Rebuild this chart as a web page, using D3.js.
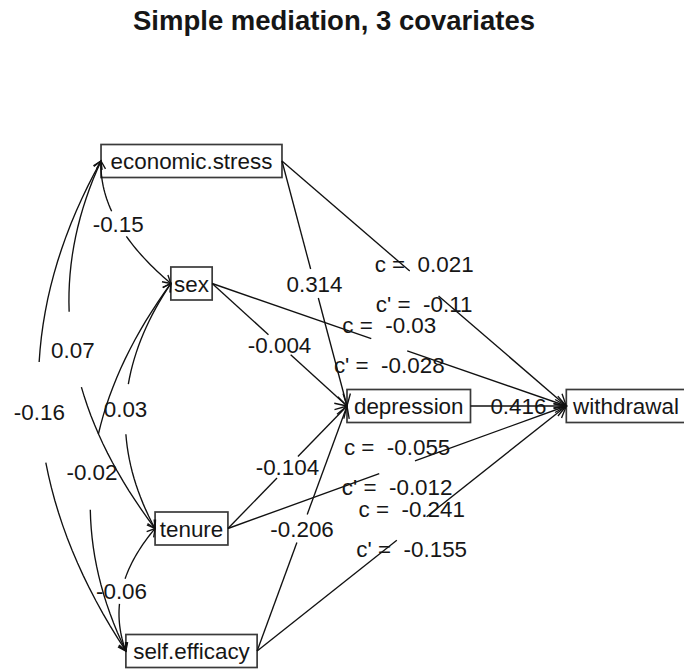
<!DOCTYPE html>
<html>
<head>
<meta charset="utf-8">
<script src="https://cdn.jsdelivr.net/npm/d3@7"></script>
<style>
  body { margin: 0; background: #fff; }
  text { font-family: "Liberation Sans", Arial, sans-serif; fill: #161616; white-space: pre; }
</style>
</head>
<body>
<script>
// values
const title = "Simple mediation, 3 covariates";
const covariates = ["economic.stress", "sex", "tenure", "self.efficacy"];
const mediator = "depression";
const outcome = "withdrawal";
const aPaths = [0.314, -0.004, -0.104, -0.206];
const bPath = 0.416;
const cTotal = [0.021, -0.03, -0.055, -0.241];
const cDirect = [-0.11, -0.028, -0.012, -0.155];
const corrPairs = [[0, 1], [0, 2], [0, 3], [1, 2], [1, 3], [2, 3]];
const corrValues = [-0.15, 0.07, -0.16, 0.03, -0.02, -0.06];

const W = 684, H = 669;
const fontSize = 22.4;

const svg = d3.select("body").append("svg")
  .attr("width", W)
  .attr("height", H);

// diagram grid: 3 columns, 5 rows
const x = d3.scaleLinear().domain([0, 2]).range([191.5, 626]);
const y = d3.scaleLinear().domain([0, 4]).range([161, 651]);

svg.append("text")
  .attr("x", 334)
  .attr("y", 29.5)
  .attr("text-anchor", "middle")
  .style("font-weight", "bold")
  .style("font-size", "27.5px")
  .text(title);

const gBox = svg.append("g").attr("fill", "none").attr("stroke", "#3a3a3a").attr("stroke-width", 1.7);
const gLine = svg.append("g").attr("fill", "none").attr("stroke", "#111").attr("stroke-width", 1.35);
const gText = svg.append("g").style("font-size", fontSize + "px");

function label(px, py, txt) {
  gText.append("text")
    .attr("x", px)
    .attr("y", py)
    .attr("dy", "0.36em")
    .attr("text-anchor", "middle")
    .text(txt);
}

function box(name, col, row) {
  const cx = x(col), cy = y(row);
  const t = gText.append("text")
    .attr("x", cx)
    .attr("y", cy)
    .attr("dy", "0.36em")
    .attr("text-anchor", "middle")
    .text(name);
  const tw = t.node().getComputedTextLength();
  const w = tw * 1.1 + 3, h = 33;
  gBox.append("rect")
    .attr("x", cx - w / 2)
    .attr("y", cy - h / 2)
    .attr("width", w)
    .attr("height", h);
  return {left: [cx - w / 2, cy], right: [cx + w / 2, cy]};
}

function head(tip, from, len) {
  const ang = Math.atan2(tip[1] - from[1], tip[0] - from[0]);
  const a = Math.PI / 6;
  const p1 = [tip[0] - len * Math.cos(ang - a), tip[1] - len * Math.sin(ang - a)];
  const p2 = [tip[0] - len * Math.cos(ang + a), tip[1] - len * Math.sin(ang + a)];
  gLine.append("path").attr("d", d3.line()([p1, tip, p2]));
}

// straight arrow, broken by 'gap' px each side of the midpoint
function arrow(p0, p1, gap) {
  const dx = p1[0] - p0[0], dy = p1[1] - p0[1];
  const len = Math.hypot(dx, dy);
  const ux = dx / len, uy = dy / len;
  const mx = (p0[0] + p1[0]) / 2, my = (p0[1] + p1[1]) / 2;
  if (gap > 0) {
    gLine.append("path").attr("d", d3.line()([p0, [mx - ux * gap, my - uy * gap]]));
    gLine.append("path").attr("d", d3.line()([[mx + ux * gap, my + uy * gap], p1]));
  } else {
    gLine.append("path").attr("d", d3.line()([p0, p1]));
  }
  head(p1, p0, 13);
  return [mx, my];
}

// curved two-headed arrow between two left edges, bowing to the left
// (spline runs from the lower box upward, like the R original)
function curve(top, bottom, txt) {
  const p0 = bottom, p1 = top;
  const bow = 0.152 * Math.abs(p1[1] - p0[1]);
  const pt = t => [p0[0] + t * (p1[0] - p0[0]) - bow * 4 * t * (1 - t), p0[1] + t * (p1[1] - p0[1])];
  const n = 40;
  const ts = d3.range(n).map(i => i / (n - 1));
  gLine.append("path").attr("d", d3.line()(ts.slice(0, 16).map(pt)));
  gLine.append("path").attr("d", d3.line()(ts.slice(23).map(pt)));
  head(p0, pt(ts[2]), 9);
  head(p1, pt(ts[n - 3]), 9);
  const lp = pt(ts[19]);
  label(lp[0], lp[1], txt);
}

const rows = [0, 1, 3, 4];
const xb = covariates.map((name, i) => box(name, 0, rows[i]));
const mb = box(mediator, 1, 2);
const yb = box(outcome, 2, 2);

// covariate -> mediator (a paths)
xb.forEach((b, i) => {
  const m = arrow(b.right, mb.left, 15);
  label(m[0], m[1], String(aPaths[i]));
});

// mediator -> outcome (b path)
const mB = arrow(mb.right, yb.left, 0);
label(mB[0], mB[1], String(bPath));

// covariate -> outcome (total and direct effects)
xb.forEach((b, i) => {
  const m = arrow(b.right, yb.left, 19);
  label(m[0], m[1] - 20, "c =  " + cTotal[i]);
  label(m[0], m[1] + 20, "c' =  " + cDirect[i]);
});

// correlations among covariates
corrPairs.forEach((p, k) => {
  curve(xb[p[0]].left, xb[p[1]].left, String(corrValues[k]));
});
</script>
</body>
</html>
